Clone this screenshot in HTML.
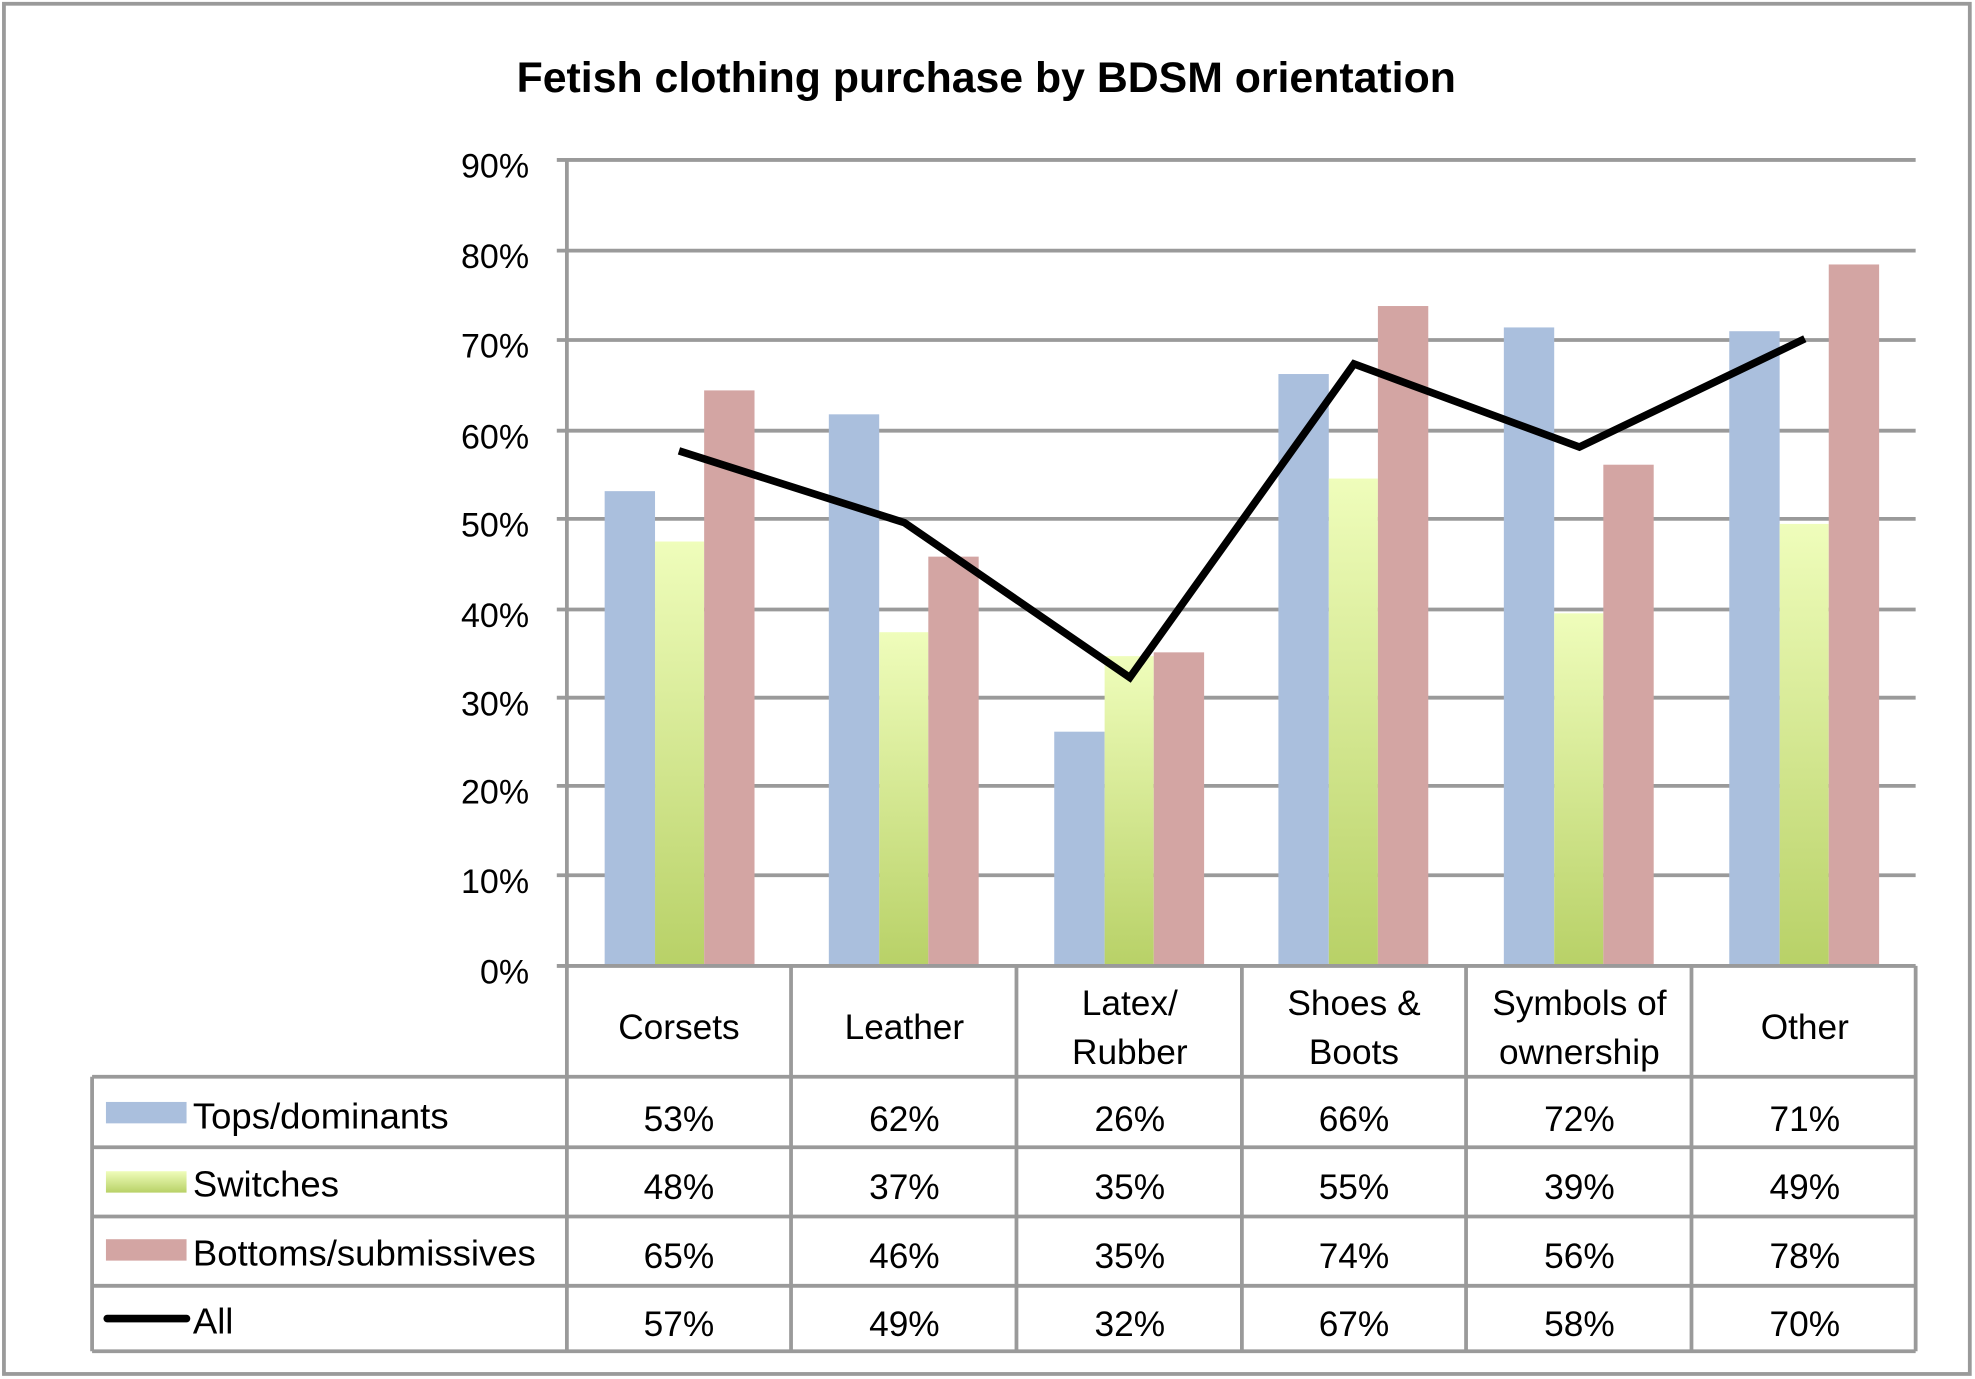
<!DOCTYPE html>
<html><head><meta charset="utf-8"><style>
html,body{margin:0;padding:0;background:#fff;}
svg{display:block;}
text{font-family:"Liberation Sans",sans-serif;fill:#000;}
</style></head><body>
<svg width="1975" height="1379" viewBox="0 0 1568 1095" xmlns="http://www.w3.org/2000/svg">
<defs>
<linearGradient id="g" x1="0" y1="0" x2="0" y2="1">
<stop offset="0" stop-color="#effdbb"/><stop offset="1" stop-color="#b8d167"/>
</linearGradient>
<linearGradient id="gl" x1="0" y1="0" x2="0" y2="1">
<stop offset="0" stop-color="#effdbb"/><stop offset="1" stop-color="#b8d167"/>
</linearGradient>
</defs>
<rect x="0" y="0" width="1568" height="1095" fill="#fff"/>
<rect x="3" y="3" width="1561" height="1088" fill="none" stroke="#9a9a9a" stroke-width="3"/>
<text x="783" y="73" font-size="34" font-weight="bold" text-anchor="middle">Fetish clothing purchase by BDSM orientation</text>
<g stroke="#9a9a9a" stroke-width="3">
<line x1="442" y1="127" x2="1521" y2="127"/>
<line x1="442" y1="199" x2="1521" y2="199"/>
<line x1="442" y1="270" x2="1521" y2="270"/>
<line x1="442" y1="342" x2="1521" y2="342"/>
<line x1="442" y1="412" x2="1521" y2="412"/>
<line x1="442" y1="484" x2="1521" y2="484"/>
<line x1="442" y1="554" x2="1521" y2="554"/>
<line x1="442" y1="624" x2="1521" y2="624"/>
<line x1="442" y1="695" x2="1521" y2="695"/>
<line x1="450" y1="127" x2="450" y2="1073"/>
</g>
<g font-size="27" text-anchor="end">
<text x="420" y="141">90%</text><text x="420" y="213">80%</text><text x="420" y="284">70%</text>
<text x="420" y="356">60%</text><text x="420" y="426">50%</text><text x="420" y="498">40%</text>
<text x="420" y="568">30%</text><text x="420" y="638">20%</text><text x="420" y="709">10%</text>
<text x="420" y="781">0%</text>
</g>
<g>
<rect x="480" y="390" width="40" height="377" fill="#aabfdd"/>
<rect x="520" y="430" width="39" height="337" fill="url(#g)"/>
<rect x="559" y="310" width="40" height="457" fill="#d3a5a3"/>
<rect x="658" y="329" width="40" height="438" fill="#aabfdd"/>
<rect x="698" y="502" width="39" height="265" fill="url(#g)"/>
<rect x="737" y="442" width="40" height="325" fill="#d3a5a3"/>
<rect x="837" y="581" width="40" height="186" fill="#aabfdd"/>
<rect x="877" y="521" width="39" height="246" fill="url(#g)"/>
<rect x="916" y="518" width="40" height="249" fill="#d3a5a3"/>
<rect x="1015" y="297" width="40" height="470" fill="#aabfdd"/>
<rect x="1055" y="380" width="39" height="387" fill="url(#g)"/>
<rect x="1094" y="243" width="40" height="524" fill="#d3a5a3"/>
<rect x="1194" y="260" width="40" height="507" fill="#aabfdd"/>
<rect x="1234" y="487" width="39" height="280" fill="url(#g)"/>
<rect x="1273" y="369" width="40" height="398" fill="#d3a5a3"/>
<rect x="1373" y="263" width="40" height="504" fill="#aabfdd"/>
<rect x="1413" y="416" width="39" height="351" fill="url(#g)"/>
<rect x="1452" y="210" width="40" height="557" fill="#d3a5a3"/>
</g>
<polyline points="539,358 718,415 897,538 1075,289 1254,355 1433,269" fill="none" stroke="#000" stroke-width="6" stroke-linejoin="miter"/>
<g stroke="#9a9a9a" stroke-width="3">
<line x1="442" y1="767" x2="1521" y2="767"/>
<line x1="73" y1="855" x2="1521" y2="855"/>
<line x1="73" y1="911" x2="1521" y2="911"/>
<line x1="73" y1="966" x2="1521" y2="966"/>
<line x1="73" y1="1021" x2="1521" y2="1021"/>
<line x1="73" y1="1073" x2="1521" y2="1073"/>
<line x1="73" y1="855" x2="73" y2="1073"/>
<line x1="628" y1="767" x2="628" y2="1073"/>
<line x1="807" y1="767" x2="807" y2="1073"/>
<line x1="986" y1="767" x2="986" y2="1073"/>
<line x1="1164" y1="767" x2="1164" y2="1073"/>
<line x1="1343" y1="767" x2="1343" y2="1073"/>
<line x1="1521" y1="767" x2="1521" y2="1073"/>
</g>
<g font-size="28" text-anchor="middle">
<text x="539" y="825">Corsets</text>
<text x="718" y="825">Leather</text>
<text x="897" y="806">Latex/</text><text x="897" y="845">Rubber</text>
<text x="1075" y="806">Shoes &amp;</text><text x="1075" y="845">Boots</text>
<text x="1254" y="806">Symbols of</text><text x="1254" y="845">ownership</text>
<text x="1433" y="825">Other</text>
</g>
<rect x="84" y="875" width="64" height="17" fill="#aabfdd"/>
<rect x="84" y="930" width="64" height="17" fill="url(#gl)"/>
<rect x="84" y="984" width="64" height="17" fill="#d3a5a3"/>
<line x1="85" y1="1047" x2="148" y2="1047" stroke="#000" stroke-width="6" stroke-linecap="round"/>
<g font-size="29">
<text x="153" y="896">Tops/dominants</text>
<text x="153" y="950">Switches</text>
<text x="153" y="1005">Bottoms/submissives</text>
<text x="153" y="1059">All</text>
</g>
<g font-size="28" text-anchor="middle">
<text x="539" y="898">53%</text><text x="718" y="898">62%</text><text x="897" y="898">26%</text><text x="1075" y="898">66%</text><text x="1254" y="898">72%</text><text x="1433" y="898">71%</text>
<text x="539" y="952">48%</text><text x="718" y="952">37%</text><text x="897" y="952">35%</text><text x="1075" y="952">55%</text><text x="1254" y="952">39%</text><text x="1433" y="952">49%</text>
<text x="539" y="1007">65%</text><text x="718" y="1007">46%</text><text x="897" y="1007">35%</text><text x="1075" y="1007">74%</text><text x="1254" y="1007">56%</text><text x="1433" y="1007">78%</text>
<text x="539" y="1061">57%</text><text x="718" y="1061">49%</text><text x="897" y="1061">32%</text><text x="1075" y="1061">67%</text><text x="1254" y="1061">58%</text><text x="1433" y="1061">70%</text>
</g>
</svg>
</body></html>
